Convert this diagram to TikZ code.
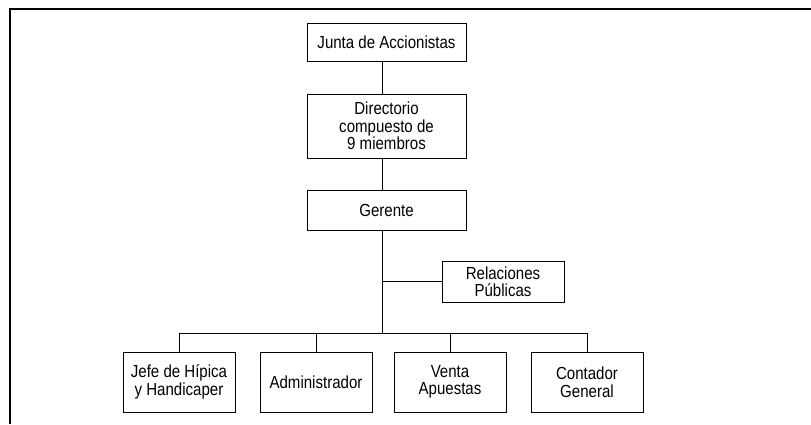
\documentclass[tikz,border=0pt]{standalone}
\usepackage{fontspec}
\setmainfont{Liberation Sans}[FakeStretch=0.86]
\usepackage{tikz}
\usetikzlibrary{positioning}
\tikzset{
    org box/.style={
        draw,
        line width=0.9pt,
        align=center,
        inner sep=0pt,
        font=\fontsize{17.5}{17.5}\selectfont
    },
    top box/.style={
        org box,
        minimum width=159pt
    },
    low box/.style={
        org box,
        minimum width=112pt,
        minimum height=60pt
    },
    org line/.style={
        line width=0.9pt
    }
}
\begin{document}
\begin{tikzpicture}[x=1pt,y=-1pt]
            \useasboundingbox (0,0) rectangle (811,424);
            \draw[line width=1.6pt] (811,9) -- (10,9) -- (10,424);

            \node[top box,minimum height=38pt] (junta) at (386.5,42) {Junta de Accionistas};
            \node[top box,minimum height=64pt] (dir) at (386.5,126) {Directorio\\compuesto de\\9 miembros};
            \node[top box,minimum height=40pt] (gerente) at (386.5,210) {Gerente};
            \node[org box,minimum width=122pt,minimum height=41pt] (rrpp) at (503,281.5) {Relaciones\\P\'ublicas};

            \node[low box] (jefe) at (179,382) {Jefe de H\'ipica\\y Handicaper};
            \node[low box] (admin) at (316,382) {Administrador};
            \node[low box] (venta) at (450,382) {Venta\\Apuestas};
            \node[low box] (contador) at (587,382) {Contador\\General};

            \coordinate (trunk) at (382,0);
            \coordinate (bus) at (382,333);
            \draw[org line] (junta.south -| trunk) -- (dir.north -| trunk);
            \draw[org line] (dir.south -| trunk) -- (gerente.north -| trunk);
            \draw[org line] (gerente.south -| trunk) -- (bus);
            \draw[org line] (rrpp.west) -- (rrpp.west -| trunk);
            \foreach \n in {jefe,admin,venta,contador}
              \draw[org line] (\n.north) |- (bus);
\end{tikzpicture}
\end{document}
